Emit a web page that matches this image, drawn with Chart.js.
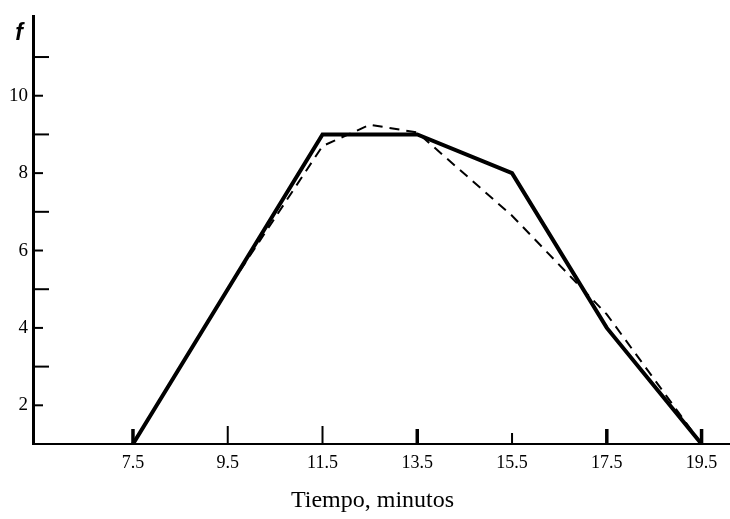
<!DOCTYPE html>
<html>
<head>
<meta charset="utf-8">
<script src="https://cdn.jsdelivr.net/npm/chart.js@4/dist/chart.umd.min.js"></script>
<style>
html,body{margin:0;padding:0;background:#fff;}
#wrap{width:730px;height:519px;}
</style>
</head>
<body>
<div id="wrap"><canvas id="myChart"></canvas></div>
<script>
// class marks and frequencies
const classMarks = [7.5, 9.5, 11.5, 13.5, 15.5, 17.5, 19.5];
const frequency = [1, 5, 9, 9, 8, 4, 1];
// smoothed polygon (dashed)
const smoothMarks = [7.5, 9.5, 11.5, 12.5, 13.5, 15.5, 17.5, 19.5];
const smoothFreq = [1, 5, 8.7, 9.25, 9.05, 6.9, 4.35, 1];
// ticks
const xTickValues = [7.5, 9.5, 11.5, 13.5, 15.5, 17.5, 19.5];
const yTickValues = [2, 3, 4, 5, 6, 7, 8, 9, 10, 11];
const yLabelValues = [2, 4, 6, 8, 10];
const xTitle = 'Tiempo, minutos';
const yTitle = 'f';

const serif = '"Liberation Serif", "Times New Roman", serif';

const innerTicks = {
    id: 'innerTicks',
    afterDraw: function(chart) {
        const ctx = chart.ctx;
        const xs = chart.scales.x, ys = chart.scales.y;
        const area = chart.chartArea;
        ctx.save();
        ctx.strokeStyle = '#000';
        // y ticks point right into the plot
        yTickValues.forEach(function(v) {
            const py = ys.getPixelForValue(v);
            const len = yLabelValues.includes(v) ? 10 : 16;
            ctx.lineWidth = 2;
            ctx.beginPath();
            ctx.moveTo(area.left, py);
            ctx.lineTo(area.left + len, py);
            ctx.stroke();
        });
        // x ticks point up into the plot
        xTickValues.forEach(function(v) {
            const px = xs.getPixelForValue(v);
            const thick = (v == 13.5 || v == 17.5 || v == 7.5 || v == 19.5);
            const len = v == 15.5 ? 11 : (thick ? 15 : 18);
            ctx.lineWidth = thick ? 3.5 : 2;
            ctx.beginPath();
            ctx.moveTo(px, area.bottom);
            ctx.lineTo(px, area.bottom - len);
            ctx.stroke();
        });
        ctx.fillStyle = '#000';
        // f label
        ctx.font = 'italic bold 23px "Liberation Sans", Arial, sans-serif';
        ctx.textAlign = 'center';
        ctx.textBaseline = 'middle';
        ctx.fillText(yTitle, area.left - 14, area.top + 17);
        // axis title
        ctx.font = '24px ' + serif;
        ctx.fillText(xTitle, (area.left + area.right) / 2 - 9, area.bottom + 57);
        ctx.restore();
    }
};

const ctx = document.getElementById('myChart').getContext('2d');
window.myChart = new Chart(ctx, {
    type: 'line',
    data: {
        datasets: [
            {
                label: 'Frecuencia',
                data: classMarks.map(function(x, i) { return {x: x, y: frequency[i]}; }),
                borderColor: '#000',
                borderWidth: 4,
                pointRadius: 0,
                tension: 0,
                fill: false
            },
            {
                label: 'Suavizado',
                data: smoothMarks.map(function(x, i) { return {x: x, y: smoothFreq[i]}; }),
                borderColor: '#000',
                borderWidth: 2,
                borderDash: [10, 7],
                pointRadius: 0,
                tension: 0,
                fill: false
            }
        ]
    },
    options: {
        responsive: true,
        maintainAspectRatio: false,
        animation: false,
        layout: { padding: { top: 10, right: 0, bottom: 0, left: 0 } },
        plugins: {
            legend: { display: false },
            tooltip: { enabled: false }
        },
        scales: {
            x: {
                type: 'linear',
                min: 5.39,
                max: 20.1,
                afterBuildTicks: function(scale) {
                    scale.ticks = xTickValues.map(function(v) { return {value: v}; });
                },
                afterFit: function(scale) { scale.height = 75; },
                grid: { drawOnChartArea: false, drawTicks: false },
                border: { display: true, color: '#000', width: 2 },
                ticks: {
                    autoSkip: false,
                    maxRotation: 0,
                    padding: 8,
                    color: '#000',
                    font: { family: serif, size: 18 },
                    callback: function(v) { return Number(v).toFixed(1); }
                }
            },
            y: {
                min: 1,
                max: 12.05,
                afterBuildTicks: function(scale) {
                    scale.ticks = yTickValues.map(function(v) { return {value: v}; });
                },
                afterFit: function(scale) { scale.width = 33; },
                grid: { drawOnChartArea: false, drawTicks: false },
                border: { display: true, color: '#000', width: 3 },
                ticks: {
                    autoSkip: false,
                    padding: 5,
                    color: '#000',
                    font: { family: serif, size: 19 },
                    callback: function(v) { return yLabelValues.includes(v) ? String(v) : ''; }
                }
            }
        }
    },
    plugins: [innerTicks]
});
</script>
</body>
</html>
